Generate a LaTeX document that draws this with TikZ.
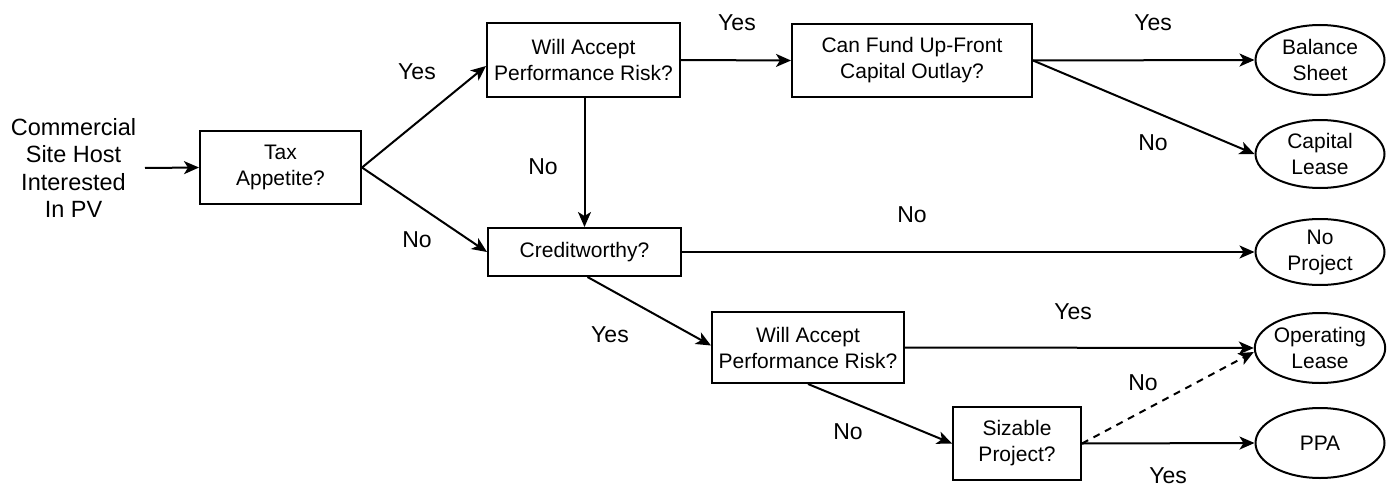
\documentclass[tikz,border=0pt]{standalone}
\usepackage{fontspec}
\setmainfont{Liberation Sans}
\usetikzlibrary{arrows.meta,shapes.geometric}
\begin{document}
\begin{tikzpicture}[x=1pt,y=-1pt,
  lw/.style={line width=2pt},
  box/.style={draw,lw,rectangle,inner sep=0pt,align=center,font=\fontsize{21}{26}\selectfont},
  oval/.style={draw,lw,ellipse,inner sep=0pt,minimum width=129pt,align=center,font=\fontsize{21}{26}\selectfont},
  lab/.style={font=\fontsize{23}{27}\selectfont,inner sep=0pt},
  arr/.style={lw,-{Stealth[length=15pt,width=13pt,inset=4pt]}},
  dashedarr/.style={arr,dash pattern=on 7pt off 6pt}]
\useasboundingbox (0,0) rectangle (1392,487);
\node[align=center,font=\fontsize{23.5}{27.5}\selectfont,inner sep=0pt] (start) at (73.5,168) {Commercial\\Site Host\\Interested\\In PV};
\node[box,minimum width=161pt,minimum height=73pt] (tax) at (280.5,167.5) {Tax\\Appetite?};
\node[box,minimum width=193pt,minimum height=74pt] (wa1) at (583.5,60) {Will Accept\\Performance Risk?};
\node[box,minimum width=240pt,minimum height=73pt] (cf) at (912,60.5) {Can Fund Up-Front\\Capital Outlay?};
\node[box,minimum width=193pt,minimum height=48pt] (cw) at (584.5,252) {Creditworthy?};
\node[box,minimum width=192pt,minimum height=71pt] (wa2) at (808,347.5) {Will Accept\\Performance Risk?};
\node[box,minimum width=128pt,minimum height=73pt] (sp) at (1017,443.5) {Sizable\\Project?};
\node[oval,minimum height=70pt] (bs) at (1320,60) {Balance\\Sheet};
\node[oval,minimum height=68pt] (cl) at (1320,154) {Capital\\Lease};
\node[oval,minimum height=66pt] (np) at (1320,252) {No\\Project};
\node[oval,minimum height=70pt] (ol) at (1320,348) {Operating\\Lease};
\node[oval,minimum height=70pt] (ppa) at (1320,443) {PPA};
\coordinate (s0) at (145,168);
\draw[arr] (s0) -- (tax.west);
\draw[arr] (tax.east) -- ([yshift=-6pt]wa1.west);
\draw[arr] (tax.east) -- (cw.west);
\draw[arr] (wa1.east) -- (cf.west);
\draw[arr] ([xshift=1pt]wa1.south) -- ([xshift=0pt]cw.north);
\draw[arr] (cf.east) -- (bs.west);
\draw[arr] (cf.east) -- (cl.west);
\draw[arr] (cw.east) -- (np.west);
\draw[arr] ([xshift=3pt]cw.south) -- ([yshift=2pt]wa2.west);
\draw[arr] (wa2.east) -- (ol.west);
\draw[arr] (wa2.south) -- (sp.west);
\draw[arr] (sp.east) -- (ppa.west);
\draw[dashedarr] (sp.east) -- ([yshift=-4pt]ol.west);
\node[lab] (l1) at (417,72) {Yes};
\node[lab] (l2) at (417,240) {No};
\node[lab] (l3) at (543,167) {No};
\node[lab] (l4) at (737,23) {Yes};
\node[lab] (l5) at (1153,23) {Yes};
\node[lab] (l6) at (1153,143) {No};
\node[lab] (l7) at (912,215) {No};
\node[lab] (l8) at (610,335) {Yes};
\node[lab] (l9) at (1073,312) {Yes};
\node[lab] (l10) at (848,432) {No};
\node[lab] (l11) at (1143,383) {No};
\node[lab] (l12) at (1168,476) {Yes};
\end{tikzpicture}
\end{document}
